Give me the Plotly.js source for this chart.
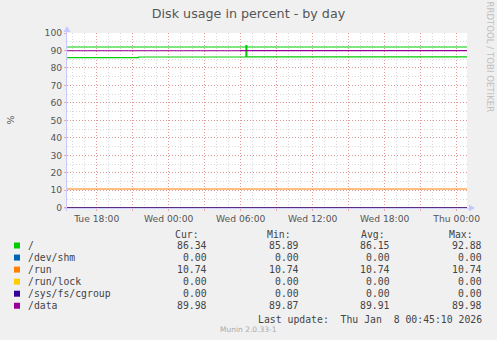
<!DOCTYPE html>
<html>
<head>
<meta charset="utf-8">
<script src="https://cdn.plot.ly/plotly-3.0.1.min.js"></script>
<style>
  html, body { margin: 0; padding: 0; background: #F0F0F0; }
  #chart { width: 497px; height: 340px; }
</style>
</head>
<body>
<div id="chart"></div>
<script>
// ---- data ----
const fieldNames = ['/', '/dev/shm', '/run', '/run/lock', '/sys/fs/cgroup', '/data'];
const fieldColors = ['#00CC00', '#0066B3', '#FF8000', '#FFCC00', '#330099', '#990099'];
const curValues = ['86.34', '0.00', '10.74', '0.00', '0.00', '89.98'];
const minValues = ['85.89', '0.00', '10.74', '0.00', '0.00', '89.87'];
const avgValues = ['86.15', '0.00', '10.74', '0.00', '0.00', '89.91'];
const maxValues = ['92.88', '0.00', '10.74', '0.00', '0.00', '89.98'];

const rootTimes = ['2026-01-06 15:32', '2026-01-06 21:30', '2026-01-07 06:26', '2026-01-07 06:31', '2026-01-08 00:52'];
const rootValues = [85.89, 86.30, 92.88, 86.34, 86.34];

const flatTimes = ['2026-01-06 15:32', '2026-01-08 00:52'];
const devShmValues = [0, 0];
const runValues = [10.74, 10.74];
const runLockValues = [0, 0];
const cgroupValues = [0, 0];

const dataTimes = ['2026-01-06 15:32', '2026-01-07 06:00', '2026-01-07 18:00', '2026-01-08 00:52'];
const dataValues = [89.87, 89.90, 89.94, 89.98];

const rootWarnTimes = ['2026-01-06 15:32', '2026-01-08 00:52'];
const rootWarnValues = [92, 92];

const xTickVals = ['2026-01-06 18:00', '2026-01-06 21:00', '2026-01-07 00:00', '2026-01-07 03:00',
                   '2026-01-07 06:00', '2026-01-07 09:00', '2026-01-07 12:00', '2026-01-07 15:00',
                   '2026-01-07 18:00', '2026-01-07 21:00', '2026-01-08 00:00'];
const xTickText = ['Tue 18:00', '', 'Wed 00:00', '', 'Wed 06:00', '', 'Wed 12:00', '', 'Wed 18:00', '', 'Thu 00:00'];
const yTickVals = [0, 10, 20, 30, 40, 50, 60, 70, 80, 90, 100];

const lastUpdate = 'Last update:\u00A0 Thu Jan \u00A08 00:45:10 2026';

// ---- layout helpers (pixel -> paper) ----
const L = 67, R = 467, T = 33, B = 208;
const W = 497, H = 340;
const px = x => (x - L) / (R - L);
const py = y => (B - y) / (B - T);

const seriesData = [
  {x: rootWarnTimes, y: rootWarnValues, c: fieldColors[0]},
  {x: rootTimes, y: rootValues, c: fieldColors[0]},
  {x: flatTimes, y: devShmValues, c: fieldColors[1]},
  {x: flatTimes, y: runValues, c: fieldColors[2]},
  {x: flatTimes, y: runLockValues, c: fieldColors[3]},
  {x: flatTimes, y: cgroupValues, c: fieldColors[4]},
  {x: dataTimes, y: dataValues, c: fieldColors[5]}
];
const traces = seriesData.map(s => ({
  type: 'scatter', mode: 'lines', x: s.x, y: s.y,
  line: {color: s.c, width: 1.1, shape: 'hv'},
  hoverinfo: 'skip', showlegend: false
}));

const mono = 'DejaVu Sans Mono, monospace';
const textColor = '#444';
const annotations = [];
function addText(text, x, y, anchor, opts) {
  annotations.push(Object.assign({
    xref: 'paper', yref: 'paper', x: px(x), y: py(y), text: text,
    showarrow: false, xanchor: anchor, yanchor: 'middle',
    font: {family: mono, size: 9.8, color: textColor}
  }, opts || {}));
}

// headers
const headerY = 234;
addText('Cur:', 173, headerY, 'left');
addText('Min:', 265, headerY, 'left');
addText('Avg:', 359, headerY, 'left');
addText('Max:', 447, headerY, 'left');

const rowY0 = 245.5, rowStep = 12.05;
const shapes = [];
fieldNames.forEach((name, i) => {
  const y = rowY0 + i * rowStep;
  addText(name, 26, y, 'left');
  addText(curValues[i], 208.5, y, 'right');
  addText(minValues[i], 301, y, 'right');
  addText(avgValues[i], 391.5, y, 'right');
  addText(maxValues[i], 483.5, y, 'right');
  shapes.push({type: 'rect', xref: 'paper', yref: 'paper',
    x0: px(14), x1: px(20), y0: py(y + 3), y1: py(y - 3),
    fillcolor: fieldColors[i], line: {width: 0}});
});
addText(lastUpdate, 483.5, 319, 'right');
addText('Munin 2.0.33-1', 248, 329, 'center',
  {font: {family: 'DejaVu Sans, sans-serif', size: 7.5, color: '#AAAAAA'}});
addText('RRDTOOL / TOBI OETIKER', 489, 56.5, 'center',
  {textangle: 90, font: {family: 'DejaVu Sans, sans-serif', size: 8.6, color: '#C0C0C0'}});
addText('%', 10, 120.5, 'center',
  {textangle: -90, font: {family: 'DejaVu Sans, sans-serif', size: 9.5, color: '#555'}});

// axis arrows
const axisCol = '#C8C8FF';
shapes.push({type: 'path', xref: 'paper', yref: 'paper',
  path: `M ${px(63.5)} ${py(32)} L ${px(70.5)} ${py(32)} L ${px(67)} ${py(26)} Z`,
  fillcolor: axisCol, line: {width: 0}});
shapes.push({type: 'path', xref: 'paper', yref: 'paper',
  path: `M ${px(469)} ${py(204.5)} L ${px(469)} ${py(211.5)} L ${px(475)} ${py(208)} Z`,
  fillcolor: axisCol, line: {width: 0}});
shapes.push({type: 'line', xref: 'paper', yref: 'paper',
  x0: px(66.5), x1: px(66.5), y0: py(211), y1: py(31),
  line: {color: axisCol, width: 1}, layer: 'below'});
shapes.push({type: 'line', xref: 'paper', yref: 'paper',
  x0: px(64), x1: px(469), y0: py(208.3), y1: py(208.3),
  line: {color: axisCol, width: 1}, layer: 'below'});

const majorGrid = 'rgba(255,0,0,0.3)';
const minorGrid = '#D8D8D8';
const tickFont = {family: 'DejaVu Sans, sans-serif', size: 9.2, color: '#555'};

const layout = {
  width: W, height: H,
  margin: {l: L, r: W - R, t: T, b: H - B, pad: 0},
  paper_bgcolor: '#F0F0F0', plot_bgcolor: '#FFFFFF',
  title: {text: 'Disk usage in percent - by day', x: 248.5 / W, xref: 'container', xanchor: 'center',
    y: 1 - 14 / H, yref: 'container', yanchor: 'middle',
    font: {family: 'DejaVu Sans, sans-serif', size: 12.7, color: '#555'}},
  xaxis: {
    type: 'date', range: ['2026-01-06 15:31:30', '2026-01-08 00:51:30'],
    tickmode: 'array', tickvals: xTickVals, ticktext: xTickText,
    showgrid: true, gridcolor: majorGrid, griddash: '1px,2px', gridwidth: 1,
    ticks: 'outside', ticklen: 2, tickcolor: majorGrid,
    minor: {dtick: 3600000, showgrid: true, gridcolor: minorGrid, griddash: '1px,2px', ticks: ''},
    showline: false, zeroline: false, tickfont: tickFont, fixedrange: true
  },
  yaxis: {
    range: [-0.15, 100], tickmode: 'array', tickvals: yTickVals,
    showgrid: true, gridcolor: majorGrid, griddash: '1px,2px', gridwidth: 1,
    ticks: 'outside', ticklen: 2, tickcolor: majorGrid,
    minor: {dtick: 5, showgrid: true, gridcolor: minorGrid, griddash: '1px,2px', ticks: ''},
    showline: false, zeroline: false, tickfont: tickFont, fixedrange: true
  },
  shapes: shapes,
  annotations: annotations,
  showlegend: false
};

Plotly.newPlot('chart', traces, layout, {staticPlot: true, displayModeBar: false});
</script>
</body>
</html>
